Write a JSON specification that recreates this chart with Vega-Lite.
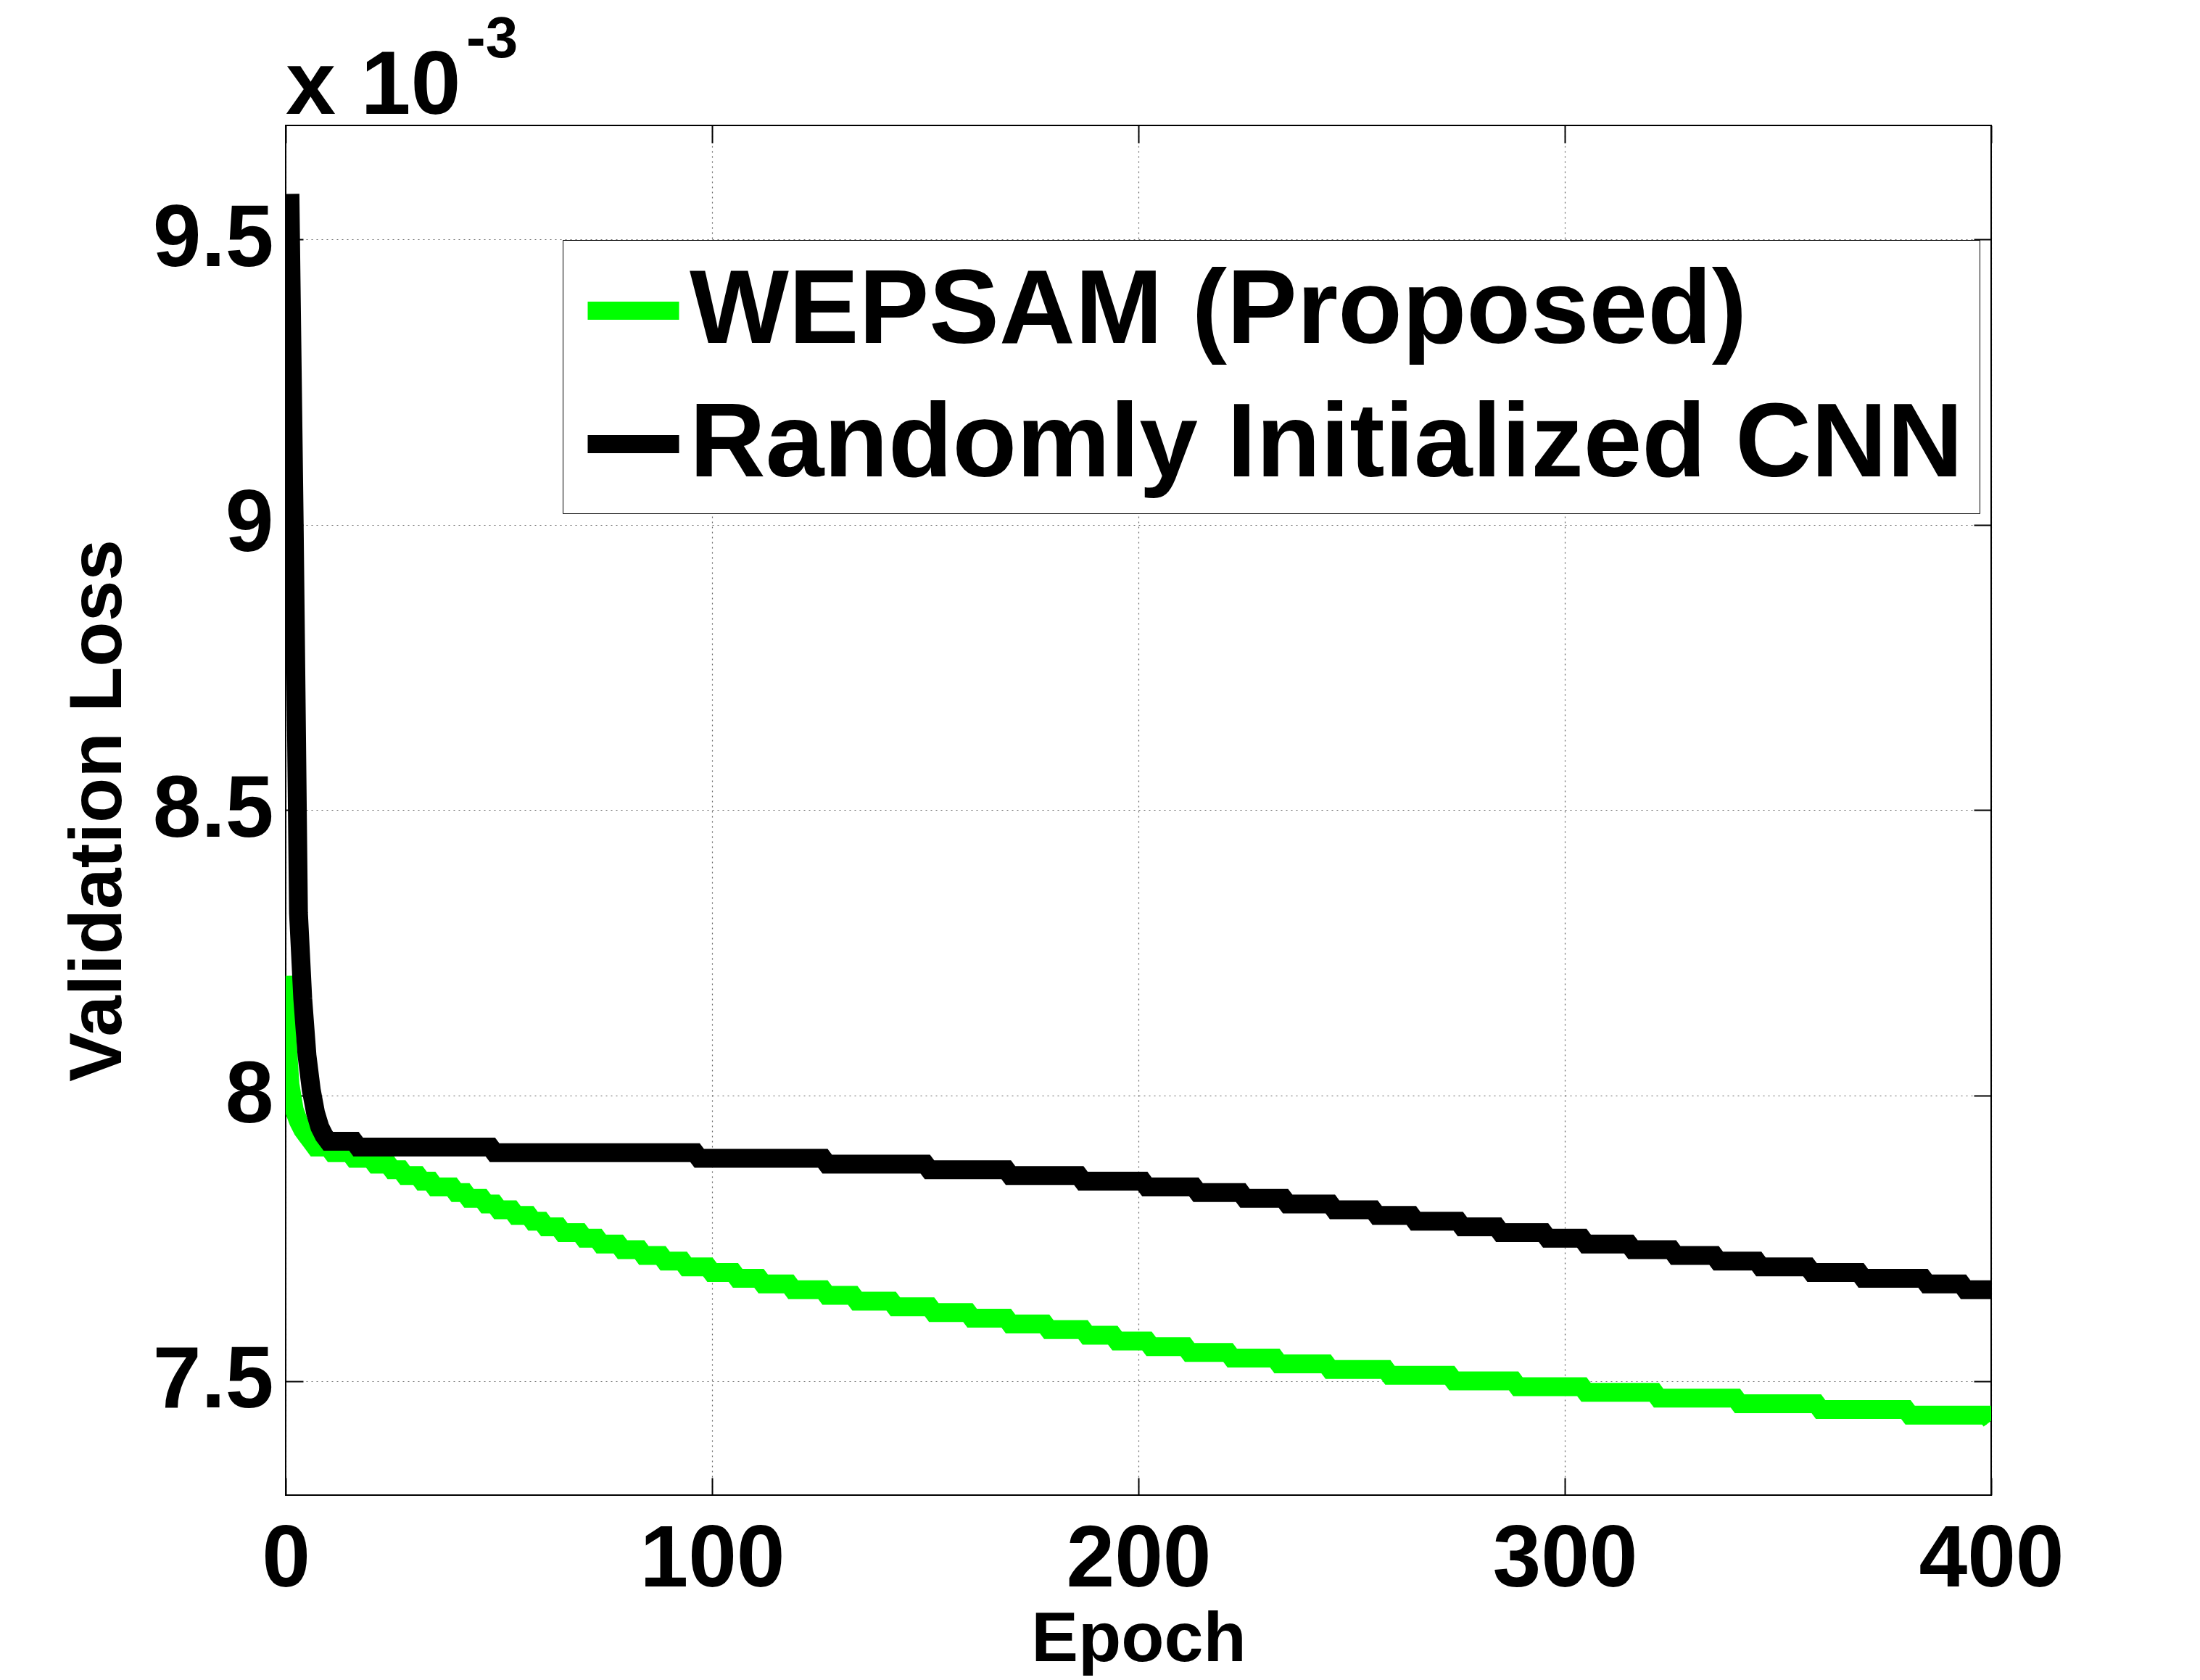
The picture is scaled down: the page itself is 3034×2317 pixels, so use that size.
{
  "$schema": "https://vega.github.io/schema/vega-lite/v6.json",
  "description": "Validation loss per epoch, WEPSAM vs randomly initialized CNN",
  "width": 2352,
  "height": 1889,
  "autosize": {"type": "none"},
  "padding": {"left": 394, "top": 173, "right": 288, "bottom": 255},
  "background": "white",
  "config": {
    "view": {"stroke": "black", "strokeWidth": 2},
    "font": "Liberation Sans"
  },
  "data": {
    "values": [
      {"model": "WEPSAM (Proposed)", "epoch": 0, "loss": 8.21},
      {"model": "WEPSAM (Proposed)", "epoch": 0.3, "loss": 8.1},
      {"model": "WEPSAM (Proposed)", "epoch": 1, "loss": 8.02},
      {"model": "WEPSAM (Proposed)", "epoch": 2, "loss": 7.975},
      {"model": "WEPSAM (Proposed)", "epoch": 3, "loss": 7.955},
      {"model": "WEPSAM (Proposed)", "epoch": 4, "loss": 7.94},
      {"model": "WEPSAM (Proposed)", "epoch": 5, "loss": 7.93},
      {"model": "WEPSAM (Proposed)", "epoch": 6, "loss": 7.92},
      {"model": "WEPSAM (Proposed)", "epoch": 7, "loss": 7.91},
      {"model": "WEPSAM (Proposed)", "epoch": 10, "loss": 7.91},
      {"model": "WEPSAM (Proposed)", "epoch": 11, "loss": 7.9},
      {"model": "WEPSAM (Proposed)", "epoch": 15, "loss": 7.9},
      {"model": "WEPSAM (Proposed)", "epoch": 16, "loss": 7.89},
      {"model": "WEPSAM (Proposed)", "epoch": 20, "loss": 7.89},
      {"model": "WEPSAM (Proposed)", "epoch": 21, "loss": 7.88},
      {"model": "WEPSAM (Proposed)", "epoch": 24, "loss": 7.88},
      {"model": "WEPSAM (Proposed)", "epoch": 25, "loss": 7.87},
      {"model": "WEPSAM (Proposed)", "epoch": 27, "loss": 7.87},
      {"model": "WEPSAM (Proposed)", "epoch": 28, "loss": 7.86},
      {"model": "WEPSAM (Proposed)", "epoch": 31, "loss": 7.86},
      {"model": "WEPSAM (Proposed)", "epoch": 32, "loss": 7.85},
      {"model": "WEPSAM (Proposed)", "epoch": 34, "loss": 7.85},
      {"model": "WEPSAM (Proposed)", "epoch": 35, "loss": 7.84},
      {"model": "WEPSAM (Proposed)", "epoch": 39, "loss": 7.84},
      {"model": "WEPSAM (Proposed)", "epoch": 40, "loss": 7.83},
      {"model": "WEPSAM (Proposed)", "epoch": 42, "loss": 7.83},
      {"model": "WEPSAM (Proposed)", "epoch": 43, "loss": 7.82},
      {"model": "WEPSAM (Proposed)", "epoch": 46, "loss": 7.82},
      {"model": "WEPSAM (Proposed)", "epoch": 47, "loss": 7.81},
      {"model": "WEPSAM (Proposed)", "epoch": 49, "loss": 7.81},
      {"model": "WEPSAM (Proposed)", "epoch": 50, "loss": 7.8},
      {"model": "WEPSAM (Proposed)", "epoch": 53, "loss": 7.8},
      {"model": "WEPSAM (Proposed)", "epoch": 54, "loss": 7.79},
      {"model": "WEPSAM (Proposed)", "epoch": 57, "loss": 7.79},
      {"model": "WEPSAM (Proposed)", "epoch": 58, "loss": 7.78},
      {"model": "WEPSAM (Proposed)", "epoch": 60, "loss": 7.78},
      {"model": "WEPSAM (Proposed)", "epoch": 61, "loss": 7.77},
      {"model": "WEPSAM (Proposed)", "epoch": 64, "loss": 7.77},
      {"model": "WEPSAM (Proposed)", "epoch": 65, "loss": 7.76},
      {"model": "WEPSAM (Proposed)", "epoch": 69, "loss": 7.76},
      {"model": "WEPSAM (Proposed)", "epoch": 70, "loss": 7.75},
      {"model": "WEPSAM (Proposed)", "epoch": 73, "loss": 7.75},
      {"model": "WEPSAM (Proposed)", "epoch": 74, "loss": 7.74},
      {"model": "WEPSAM (Proposed)", "epoch": 78, "loss": 7.74},
      {"model": "WEPSAM (Proposed)", "epoch": 79, "loss": 7.73},
      {"model": "WEPSAM (Proposed)", "epoch": 83, "loss": 7.73},
      {"model": "WEPSAM (Proposed)", "epoch": 84, "loss": 7.72},
      {"model": "WEPSAM (Proposed)", "epoch": 88, "loss": 7.72},
      {"model": "WEPSAM (Proposed)", "epoch": 89, "loss": 7.71},
      {"model": "WEPSAM (Proposed)", "epoch": 93, "loss": 7.71},
      {"model": "WEPSAM (Proposed)", "epoch": 94, "loss": 7.7},
      {"model": "WEPSAM (Proposed)", "epoch": 99, "loss": 7.7},
      {"model": "WEPSAM (Proposed)", "epoch": 100, "loss": 7.69},
      {"model": "WEPSAM (Proposed)", "epoch": 105, "loss": 7.69},
      {"model": "WEPSAM (Proposed)", "epoch": 106, "loss": 7.68},
      {"model": "WEPSAM (Proposed)", "epoch": 111, "loss": 7.68},
      {"model": "WEPSAM (Proposed)", "epoch": 112, "loss": 7.67},
      {"model": "WEPSAM (Proposed)", "epoch": 118, "loss": 7.67},
      {"model": "WEPSAM (Proposed)", "epoch": 119, "loss": 7.66},
      {"model": "WEPSAM (Proposed)", "epoch": 126, "loss": 7.66},
      {"model": "WEPSAM (Proposed)", "epoch": 127, "loss": 7.65},
      {"model": "WEPSAM (Proposed)", "epoch": 133, "loss": 7.65},
      {"model": "WEPSAM (Proposed)", "epoch": 134, "loss": 7.64},
      {"model": "WEPSAM (Proposed)", "epoch": 142, "loss": 7.64},
      {"model": "WEPSAM (Proposed)", "epoch": 143, "loss": 7.63},
      {"model": "WEPSAM (Proposed)", "epoch": 151, "loss": 7.63},
      {"model": "WEPSAM (Proposed)", "epoch": 152, "loss": 7.62},
      {"model": "WEPSAM (Proposed)", "epoch": 160, "loss": 7.62},
      {"model": "WEPSAM (Proposed)", "epoch": 161, "loss": 7.61},
      {"model": "WEPSAM (Proposed)", "epoch": 169, "loss": 7.61},
      {"model": "WEPSAM (Proposed)", "epoch": 170, "loss": 7.6},
      {"model": "WEPSAM (Proposed)", "epoch": 178, "loss": 7.6},
      {"model": "WEPSAM (Proposed)", "epoch": 179, "loss": 7.59},
      {"model": "WEPSAM (Proposed)", "epoch": 187, "loss": 7.59},
      {"model": "WEPSAM (Proposed)", "epoch": 188, "loss": 7.58},
      {"model": "WEPSAM (Proposed)", "epoch": 194, "loss": 7.58},
      {"model": "WEPSAM (Proposed)", "epoch": 195, "loss": 7.57},
      {"model": "WEPSAM (Proposed)", "epoch": 202, "loss": 7.57},
      {"model": "WEPSAM (Proposed)", "epoch": 203, "loss": 7.56},
      {"model": "WEPSAM (Proposed)", "epoch": 211, "loss": 7.56},
      {"model": "WEPSAM (Proposed)", "epoch": 212, "loss": 7.55},
      {"model": "WEPSAM (Proposed)", "epoch": 221, "loss": 7.55},
      {"model": "WEPSAM (Proposed)", "epoch": 222, "loss": 7.54},
      {"model": "WEPSAM (Proposed)", "epoch": 232, "loss": 7.54},
      {"model": "WEPSAM (Proposed)", "epoch": 233, "loss": 7.53},
      {"model": "WEPSAM (Proposed)", "epoch": 244, "loss": 7.53},
      {"model": "WEPSAM (Proposed)", "epoch": 245, "loss": 7.52},
      {"model": "WEPSAM (Proposed)", "epoch": 258, "loss": 7.52},
      {"model": "WEPSAM (Proposed)", "epoch": 259, "loss": 7.51},
      {"model": "WEPSAM (Proposed)", "epoch": 273, "loss": 7.51},
      {"model": "WEPSAM (Proposed)", "epoch": 274, "loss": 7.5},
      {"model": "WEPSAM (Proposed)", "epoch": 288, "loss": 7.5},
      {"model": "WEPSAM (Proposed)", "epoch": 289, "loss": 7.49},
      {"model": "WEPSAM (Proposed)", "epoch": 304, "loss": 7.49},
      {"model": "WEPSAM (Proposed)", "epoch": 305, "loss": 7.48},
      {"model": "WEPSAM (Proposed)", "epoch": 321, "loss": 7.48},
      {"model": "WEPSAM (Proposed)", "epoch": 322, "loss": 7.47},
      {"model": "WEPSAM (Proposed)", "epoch": 340, "loss": 7.47},
      {"model": "WEPSAM (Proposed)", "epoch": 341, "loss": 7.46},
      {"model": "WEPSAM (Proposed)", "epoch": 359, "loss": 7.46},
      {"model": "WEPSAM (Proposed)", "epoch": 360, "loss": 7.45},
      {"model": "WEPSAM (Proposed)", "epoch": 380, "loss": 7.45},
      {"model": "WEPSAM (Proposed)", "epoch": 381, "loss": 7.44},
      {"model": "WEPSAM (Proposed)", "epoch": 399, "loss": 7.44},
      {"model": "WEPSAM (Proposed)", "epoch": 400, "loss": 7.43},
      {"model": "Randomly Initialized CNN", "epoch": 1, "loss": 9.58},
      {"model": "Randomly Initialized CNN", "epoch": 2, "loss": 9.0},
      {"model": "Randomly Initialized CNN", "epoch": 3, "loss": 8.32},
      {"model": "Randomly Initialized CNN", "epoch": 4, "loss": 8.17},
      {"model": "Randomly Initialized CNN", "epoch": 5, "loss": 8.07},
      {"model": "Randomly Initialized CNN", "epoch": 6, "loss": 8.01},
      {"model": "Randomly Initialized CNN", "epoch": 7, "loss": 7.97},
      {"model": "Randomly Initialized CNN", "epoch": 8, "loss": 7.945},
      {"model": "Randomly Initialized CNN", "epoch": 9, "loss": 7.93},
      {"model": "Randomly Initialized CNN", "epoch": 10, "loss": 7.92},
      {"model": "Randomly Initialized CNN", "epoch": 16, "loss": 7.92},
      {"model": "Randomly Initialized CNN", "epoch": 17, "loss": 7.91},
      {"model": "Randomly Initialized CNN", "epoch": 48, "loss": 7.91},
      {"model": "Randomly Initialized CNN", "epoch": 49, "loss": 7.9},
      {"model": "Randomly Initialized CNN", "epoch": 96, "loss": 7.9},
      {"model": "Randomly Initialized CNN", "epoch": 97, "loss": 7.89},
      {"model": "Randomly Initialized CNN", "epoch": 126, "loss": 7.89},
      {"model": "Randomly Initialized CNN", "epoch": 127, "loss": 7.88},
      {"model": "Randomly Initialized CNN", "epoch": 150, "loss": 7.88},
      {"model": "Randomly Initialized CNN", "epoch": 151, "loss": 7.87},
      {"model": "Randomly Initialized CNN", "epoch": 169, "loss": 7.87},
      {"model": "Randomly Initialized CNN", "epoch": 170, "loss": 7.86},
      {"model": "Randomly Initialized CNN", "epoch": 186, "loss": 7.86},
      {"model": "Randomly Initialized CNN", "epoch": 187, "loss": 7.85},
      {"model": "Randomly Initialized CNN", "epoch": 201, "loss": 7.85},
      {"model": "Randomly Initialized CNN", "epoch": 202, "loss": 7.84},
      {"model": "Randomly Initialized CNN", "epoch": 213, "loss": 7.84},
      {"model": "Randomly Initialized CNN", "epoch": 214, "loss": 7.83},
      {"model": "Randomly Initialized CNN", "epoch": 224, "loss": 7.83},
      {"model": "Randomly Initialized CNN", "epoch": 225, "loss": 7.82},
      {"model": "Randomly Initialized CNN", "epoch": 234, "loss": 7.82},
      {"model": "Randomly Initialized CNN", "epoch": 235, "loss": 7.81},
      {"model": "Randomly Initialized CNN", "epoch": 245, "loss": 7.81},
      {"model": "Randomly Initialized CNN", "epoch": 246, "loss": 7.8},
      {"model": "Randomly Initialized CNN", "epoch": 255, "loss": 7.8},
      {"model": "Randomly Initialized CNN", "epoch": 256, "loss": 7.79},
      {"model": "Randomly Initialized CNN", "epoch": 264, "loss": 7.79},
      {"model": "Randomly Initialized CNN", "epoch": 265, "loss": 7.78},
      {"model": "Randomly Initialized CNN", "epoch": 275, "loss": 7.78},
      {"model": "Randomly Initialized CNN", "epoch": 276, "loss": 7.77},
      {"model": "Randomly Initialized CNN", "epoch": 284, "loss": 7.77},
      {"model": "Randomly Initialized CNN", "epoch": 285, "loss": 7.76},
      {"model": "Randomly Initialized CNN", "epoch": 295, "loss": 7.76},
      {"model": "Randomly Initialized CNN", "epoch": 296, "loss": 7.75},
      {"model": "Randomly Initialized CNN", "epoch": 304, "loss": 7.75},
      {"model": "Randomly Initialized CNN", "epoch": 305, "loss": 7.74},
      {"model": "Randomly Initialized CNN", "epoch": 315, "loss": 7.74},
      {"model": "Randomly Initialized CNN", "epoch": 316, "loss": 7.73},
      {"model": "Randomly Initialized CNN", "epoch": 325, "loss": 7.73},
      {"model": "Randomly Initialized CNN", "epoch": 326, "loss": 7.72},
      {"model": "Randomly Initialized CNN", "epoch": 335, "loss": 7.72},
      {"model": "Randomly Initialized CNN", "epoch": 336, "loss": 7.71},
      {"model": "Randomly Initialized CNN", "epoch": 345, "loss": 7.71},
      {"model": "Randomly Initialized CNN", "epoch": 346, "loss": 7.7},
      {"model": "Randomly Initialized CNN", "epoch": 357, "loss": 7.7},
      {"model": "Randomly Initialized CNN", "epoch": 358, "loss": 7.69},
      {"model": "Randomly Initialized CNN", "epoch": 369, "loss": 7.69},
      {"model": "Randomly Initialized CNN", "epoch": 370, "loss": 7.68},
      {"model": "Randomly Initialized CNN", "epoch": 384, "loss": 7.68},
      {"model": "Randomly Initialized CNN", "epoch": 385, "loss": 7.67},
      {"model": "Randomly Initialized CNN", "epoch": 393, "loss": 7.67},
      {"model": "Randomly Initialized CNN", "epoch": 394, "loss": 7.66},
      {"model": "Randomly Initialized CNN", "epoch": 400, "loss": 7.66}
    ]
  },
  "resolve": {"axis": {"x": "independent", "y": "independent"}},
  "layer": [
    {
      "mark": {"type": "line", "strokeWidth": 26, "clip": true, "strokeCap": "butt", "strokeJoin": "miter"},
      "encoding": {
        "x": {
          "field": "epoch",
          "type": "quantitative",
          "scale": {"domain": [0, 400], "nice": false, "zero": false},
          "axis": {
            "title": "Epoch",
            "values": [0, 100, 200, 300, 400],
            "format": "d",
            "labelFontSize": 120,
            "labelFont": "Liberation Sans",
            "labelFontWeight": "bold",
            "labelColor": "black",
            "labelPadding": 54,
            "labelLimit": 1000,
            "labelFlush": false,
            "labelOverlap": false,
            "tickSize": -24,
            "tickWidth": 2,
            "tickColor": "black",
            "domain": false,
            "grid": true,
            "gridColor": "black",
            "gridDash": [2, 5],
            "gridWidth": 1.2,
            "gridOpacity": 0.6,
            "titleFontSize": 97,
            "titleFont": "Liberation Sans",
            "titleFontWeight": "bold",
            "titleColor": "black",
            "titlePadding": 2
          }
        },
        "y": {
          "field": "loss",
          "type": "quantitative",
          "scale": {"domain": [7.3, 9.7], "nice": false, "zero": false},
          "axis": {
            "title": "Validation Loss",
            "values": [7.5, 8, 8.5, 9, 9.5],
            "format": "~g",
            "labelFontSize": 120,
            "labelFont": "Liberation Sans",
            "labelFontWeight": "bold",
            "labelColor": "black",
            "labelPadding": 41,
            "labelLimit": 1000,
            "labelOverlap": false,
            "tickSize": -24,
            "tickWidth": 2,
            "tickColor": "black",
            "domain": false,
            "grid": true,
            "gridColor": "black",
            "gridDash": [2, 5],
            "gridWidth": 1.2,
            "gridOpacity": 0.6,
            "titleFontSize": 102,
            "titleFont": "Liberation Sans",
            "titleFontWeight": "bold",
            "titleColor": "black",
            "titlePadding": 23
          }
        },
        "color": {
          "field": "model",
          "type": "nominal",
          "sort": null,
          "scale": {
            "domain": ["WEPSAM (Proposed)", "Randomly Initialized CNN"],
            "range": ["#00ff00", "#000000"]
          },
          "legend": {
            "title": null,
            "orient": "none",
            "legendX": 382,
            "legendY": 158,
            "direction": "vertical",
            "symbolType": "stroke",
            "symbolSize": 15876,
            "symbolStrokeWidth": 25,
            "labelFontSize": 145,
            "labelFont": "Liberation Sans",
            "labelFontWeight": "bold",
            "labelColor": "black",
            "labelLimit": 3000,
            "labelOffset": 2,
            "rowPadding": 35,
            "padding": 22,
            "strokeColor": "black",
            "fillColor": "white"
          }
        }
      }
    },
    {
      "data": {"values": [{}]},
      "mark": {"type": "text", "text": "x 10", "align": "left", "baseline": "alphabetic", "dx": 0, "dy": -16, "fontSize": 124, "font": "Liberation Sans", "fontWeight": "bold", "color": "black"},
      "encoding": {
        "x": {
          "datum": 0,
          "type": "quantitative",
          "axis": {"orient": "top", "labels": false, "title": null, "grid": false, "domain": false, "tickSize": -24, "tickWidth": 2, "tickColor": "black", "values": [0, 100, 200, 300, 400]}
        },
        "y": {
          "datum": 9.7,
          "type": "quantitative",
          "axis": {"orient": "right", "labels": false, "title": null, "grid": false, "domain": false, "tickSize": -24, "tickWidth": 2, "tickColor": "black", "values": [7.5, 8, 8.5, 9, 9.5]}
        }
      }
    },
    {
      "data": {"values": [{}]},
      "mark": {"type": "text", "text": "-3", "align": "left", "baseline": "alphabetic", "dx": 249, "dy": -94, "fontSize": 80, "font": "Liberation Sans", "fontWeight": "bold", "color": "black"},
      "encoding": {
        "x": {"datum": 0, "type": "quantitative", "axis": null},
        "y": {"datum": 9.7, "type": "quantitative", "axis": null}
      }
    }
  ]
}
